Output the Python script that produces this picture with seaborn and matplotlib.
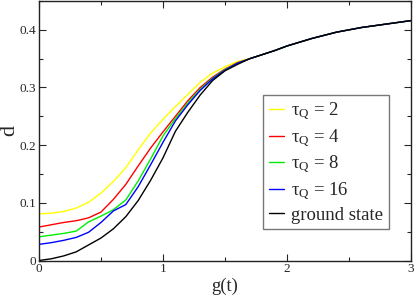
import numpy as np
import pandas as pd
import matplotlib
matplotlib.use('Agg')
import matplotlib.pyplot as plt
import seaborn as sns

# g(t) grid shared by all curves
g = [0.0, 0.1, 0.2, 0.3, 0.4, 0.5, 0.6, 0.7, 0.8, 0.9, 1.0, 1.1, 1.2, 1.3, 1.4, 1.5,
     1.6, 1.7, 1.8, 1.9, 2.0, 2.2, 2.4, 2.6, 2.8, 3.0]

# common tail (g >= 1.7) where all curves coincide
tail = [0.350, 0.357, 0.364, 0.372, 0.385, 0.396, 0.404, 0.410, 0.416]

d_tau2 = [0.081, 0.082, 0.085, 0.091, 0.101, 0.117, 0.137, 0.161, 0.192, 0.221, 0.245,
          0.267, 0.288, 0.309, 0.325, 0.336, 0.345] + tail
d_tau4 = [0.058, 0.062, 0.066, 0.069, 0.074, 0.084, 0.106, 0.132, 0.164, 0.195, 0.223,
          0.250, 0.277, 0.300, 0.318, 0.332, 0.343] + tail
d_tau8 = [0.041, 0.044, 0.047, 0.051, 0.067, 0.077, 0.088, 0.105, 0.138, 0.176, 0.216,
          0.246, 0.273, 0.297, 0.316, 0.331, 0.342] + tail
d_tau16 = [0.028, 0.031, 0.035, 0.040, 0.049, 0.066, 0.086, 0.097, 0.128, 0.166, 0.205,
           0.242, 0.270, 0.295, 0.315, 0.330, 0.342] + tail
d_ground = [0.000, 0.003, 0.008, 0.015, 0.027, 0.039, 0.055, 0.076, 0.104, 0.139, 0.178,
            0.224, 0.257, 0.287, 0.312, 0.329, 0.340] + tail

labels = ['τ$_\\mathrm{Q}$ = 2', 'τ$_\\mathrm{Q}$ = 4', 'τ$_\\mathrm{Q}$ = 8',
          'τ$_\\mathrm{Q}$ = 16', 'ground state']
colors = ['#ffff00', '#ff0000', '#00ee00', '#0000ff', '#000000']
series = [d_tau2, d_tau4, d_tau8, d_tau16, d_ground]

df = pd.concat([pd.DataFrame({'g': g, 'd': s, 'curve': lab})
                for s, lab in zip(series, labels)], ignore_index=True)

sns.set_style('ticks')
plt.rcParams['font.family'] = ['Liberation Serif', 'DejaVu Serif']
plt.rcParams['mathtext.fontset'] = 'custom'
plt.rcParams['mathtext.rm'] = 'Liberation Serif'
plt.rcParams['mathtext.it'] = 'Liberation Serif:italic'

fig = plt.figure(figsize=(4.15, 2.98), dpi=100)
ax = fig.add_axes([39 / 415, 37.5 / 298, 372 / 415, 259.5 / 298])

sns.lineplot(data=df, x='g', y='d', hue='curve', hue_order=labels,
             palette=dict(zip(labels, colors)), linewidth=1.0, ax=ax)

ax.set_xlim(0, 3)
ax.set_ylim(0, 0.45)
ax.set_xticks([0, 1, 2, 3])
ax.set_xticklabels(['0', '1', '2', '3'])
ax.set_yticks([0, 0.1, 0.2, 0.3, 0.4])
ax.set_yticklabels(['0', '0.1', '0.2', '0.3', '0.4'])
ax.set_xticks(np.arange(0, 3.01, 0.5), minor=True)
ax.set_yticks(np.arange(0, 0.451, 0.05), minor=True)
ax.tick_params(which='both', direction='in', top=True, right=True, labelsize=9.5, pad=2)
ax.tick_params(which='major', length=5, width=0.8)
ax.tick_params(which='minor', length=3, width=0.8)
for sp in ax.spines.values():
    sp.set_linewidth(1.0)
    sp.set_color('#222222')

ax.set_xlabel('g(t)', fontsize=13.5, labelpad=2)
ax.set_ylabel('d', fontsize=16, labelpad=0)

leg = ax.legend(loc='upper left', bbox_to_anchor=(0.602, 0.637), borderaxespad=0,
                fontsize=13.5, handlelength=0.8, handletextpad=0.4,
                labelspacing=0.26, borderpad=0.3, fancybox=False, frameon=True)
leg.get_frame().set_edgecolor('#777777')
leg.get_frame().set_linewidth(1.0)
leg.get_frame().set_alpha(1)

fig.savefig('out.png', dpi=100)
